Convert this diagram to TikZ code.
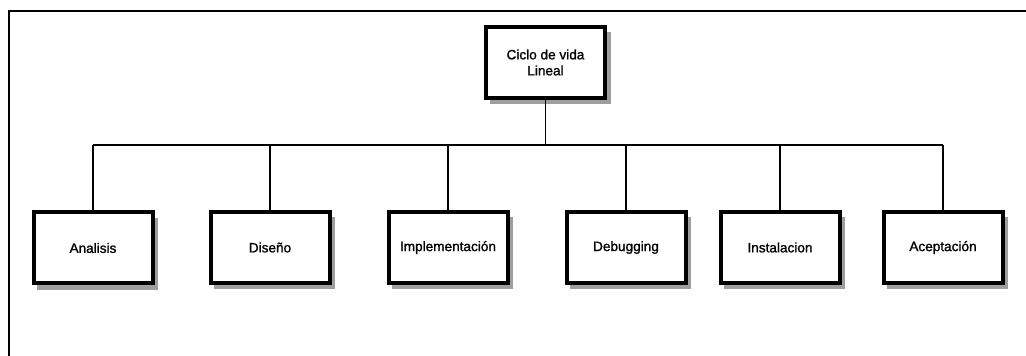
\documentclass[tikz,border=0pt]{standalone}
\usepackage{fontspec}
\setmainfont{Liberation Sans}
\newfontfamily\boxfont[FakeBold=1.2]{Liberation Sans}
\begin{document}
\begin{tikzpicture}[x=0.75pt,y=-0.75pt,
  stagebox/.style={draw=black,line width=3pt,fill=white,minimum width=119*0.75pt,
    minimum height=71*0.75pt,inner sep=0pt,align=center,
    font=\boxfont\fontsize{10.2pt}{12pt}\selectfont},
  boxshadow/.style={fill=black!38,draw=none},
  link/.style={draw=black,line width=1.3pt}]
\useasboundingbox (0,0) rectangle (1026,356);
% page frame
\draw[line width=1.6pt] (9,356) -- (9,11) -- (1026,11);
% shadows under the boxes
\foreach \cx/\cy in {546/63,93/249,270/248,448/248,626/248,780/248,943/248}
  \fill[boxshadow] (\cx-56,\cy-31) rectangle (\cx+65,\cy+41);
% root
\node[stagebox] (root) at (545.5,62.5) {Ciclo de vida\\Lineal};
% stages
\node[stagebox] (s1) at (93,248) {Analisis};
\node[stagebox] (s2) at (270,247.5) {Diseño};
\node[stagebox] (s3) at (448,247.5) {Implementación};
\node[stagebox] (s4) at (626,247.5) {Debugging};
\node[stagebox] (s5) at (780,247.5) {Instalacion};
\node[stagebox] (s6) at (943,247.5) {Aceptación};
% tree connectors
\coordinate (bus) at (545.5,145);
\draw[link] (root.south) -- (bus);
\draw[link] (s1.north |- bus) -- (s6.north |- bus);
\foreach \n in {s1,s2,s3,s4,s5,s6}
  \draw[link] (\n.north |- bus) -- (\n.north);
\end{tikzpicture}
\end{document}
